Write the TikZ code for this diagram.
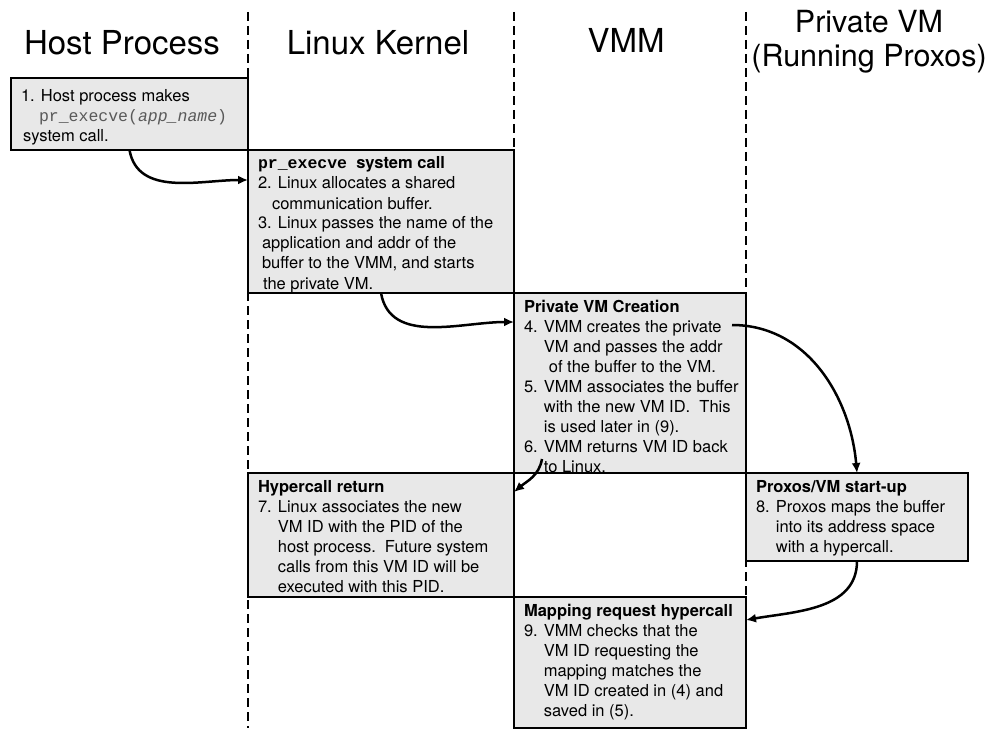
\documentclass[tikz,border=0pt]{standalone}
\usepackage{fontspec}
\setmainfont{TeX Gyre Heros}
\setmonofont{Liberation Mono}
\usetikzlibrary{positioning,arrows.meta}
\definecolor{boxgray}{gray}{0.91}
\definecolor{codegray}{gray}{0.35}
\newcommand{\steptext}[3]{\parbox[t][#1][t]{#2}{\begin{tabular}[t]{@{}l@{}}#3\end{tabular}}}
\newcommand{\ind}{\hphantom{9. }}
\begin{document}
\begin{tikzpicture}[x=1pt, y=-1pt,
  lane/.style = {line width=1.6pt, dash pattern=on 9pt off 5pt},
  title/.style = {font=\fontsize{33}{35}\selectfont, inner sep=0pt},
  stepbox/.style = {draw, line width=1.6pt, fill=boxgray, outer sep=0pt, inner xsep=10pt, inner ysep=5pt, font=\fontsize{16.5}{20}\selectfont},
  flow/.style = {line width=2.5pt, -{Latex[length=10pt, width=9pt]}}]
\useasboundingbox (0,0) rectangle (990,730);
                  \node[title, anchor=base](host) at (122,55) {Host Process};
                  \node[title, anchor=base](kernel) at (378,55) {Linux Kernel};
                  \node[title, anchor=base](vmm) at (626,53) {VMM};
                  \node[title, font=\fontsize{30.5}{34}\selectfont, align=center](pvm) at (869,42) {Private VM\\(Running Proxos)};
                  \draw[lane] (248,12) -- (248,728);
                  \draw[lane] (514,12) -- (514,728);
                  \draw[lane] (746,12) -- (746,728);
                  \node[stepbox, anchor=north west](b1) at (11,78) {\steptext{62pt}{217pt}{\rule{0pt}{19pt}1. Host process makes\\
                    \hspace*{18pt}{\color{codegray}\ttfamily pr\_execve(\textit{app\_name})}\\
                    \hspace*{2pt}system call.}};
                  \node[stepbox, below right=0pt of b1.south east](b2) {\steptext{133pt}{246pt}{{\ttfamily\bfseries pr\_execve}\ \ \textbf{system call}\\
                    2. Linux allocates a shared\\
                    \hspace*{14pt}communication buffer.\\
                    3. Linux passes the name of the\\
                    \hspace*{4pt}application and addr of the\\
                    \hspace*{4pt}buffer to the VMM, and starts\\
                    \hspace*{5pt}the private VM.}};
                  \node[stepbox, below right=0pt of b2.south east](b3) {\steptext{170pt}{212pt}{\textbf{Private VM Creation}\\
                    4. VMM creates the private\\
                    \ind VM and passes the addr\\
                    \ind\hspace*{5pt}of the buffer to the VM.\\
                    5. VMM associates the buffer\\
                    \ind with the new VM ID.\ \ This\\
                    \ind is used later in (9).\\
                    6. VMM returns VM ID back\\
                    \ind to Linux.}};
                  \node[stepbox, below left=0pt of b3.south west](b4) {\steptext{114pt}{246pt}{\textbf{Hypercall return}\\
                    7. Linux associates the new\\
                    \ind VM ID with the PID of the\\
                    \ind host process.\ \ Future system\\
                    \ind calls from this VM ID will be\\
                    \ind executed with this PID.}};
                  \node[stepbox, below right=0pt of b3.south east](b5) {\steptext{78pt}{202pt}{\textbf{Proxos/VM start-up}\\
                    8. Proxos maps the buffer\\
                    \ind into its address space\\
                    \ind with a hypercall.}};
                  \node[stepbox, below right=0pt of b4.south east](b6) {\steptext{121pt}{212pt}{\textbf{Mapping request hypercall}\\
                    9. VMM checks that the\\
                    \ind VM ID requesting the\\
                    \ind mapping matches the\\
                    \ind VM ID created in (4) and\\
                    \ind saved in (5).}};
                  \coordinate (vmstart) at ([xshift=-14pt, yshift=-32pt]b3.north east);
                  \coordinate (retstart) at ([xshift=28pt, yshift=14pt]b3.south west);
                  \draw[flow] (b1.south) to [out=-80, in=180] ([yshift=-30pt]b2.north west);
                  \draw[flow] (b2.south) to [out=-80, in=180] ([yshift=-29pt]b3.north west);
                  \draw[flow] (vmstart) to [out=0, in=95] (b5.north);
                  \draw[flow] (retstart) to [out=-100, in=40] ([yshift=-19pt]b4.north east);
                  \draw[flow] (b5.south) to [out=-90, in=10] ([yshift=-23pt]b6.north east);

          \end{tikzpicture}
\end{document}
